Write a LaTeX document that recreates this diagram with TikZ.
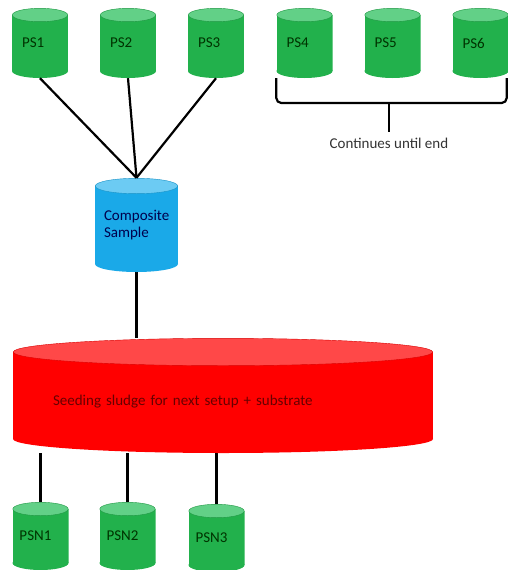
\documentclass[tikz,border=0pt]{standalone}
\usepackage{fontspec}
\setmainfont{Carlito}
\usetikzlibrary{backgrounds}
\definecolor{psgreen}{HTML}{22B14C}
\definecolor{pstop}{HTML}{62D087}
\definecolor{csblue}{HTML}{1AA9E8}
\definecolor{cstop}{HTML}{6CCBF3}
\definecolor{sdred}{HTML}{FF0000}
\definecolor{sdtop}{HTML}{FF4848}

\begin{document}
\begin{tikzpicture}[x=1pt,y=-1pt,every node/.style={font=\fontsize{15}{17}\selectfont,align=left,inner sep=0pt},drum/.style n args={5}{minimum width=#1,minimum height=#2,path picture={\fill[#4] ([yshift=#3]path picture bounding box.south west) rectangle ([yshift=-#3]path picture bounding box.north east);\fill[#4] ([yshift=#3]path picture bounding box.south) ellipse [x radius=#1/2,y radius=#3];\fill[#5,draw=#4!85!black,line width=0.4pt] ([yshift=-#3]path picture bounding box.north) ellipse [x radius=#1/2-0.3pt,y radius=#3-0.3pt];}},ps/.style={drum={56pt}{70pt}{7pt}{psgreen}{pstop},text width=36pt,text=green!20!black},psn/.style={drum={56pt}{68pt}{7pt}{psgreen}{pstop},text width=42pt,text=green!20!black},link/.style={line width=2.2pt,draw=black}]
\useasboundingbox (0,0) rectangle (508,570);
\node[ps] (ps1) at (40,43) {PS1};
\node[ps] (ps2) at (128,43) {PS2};
\node[ps] (ps3) at (216,43) {PS3};
\node[ps] (ps4) at (304.5,43) {PS4};
\node[ps] (ps5) at (392.5,43) {PS5};
\node[ps] (ps6) at (480.5,43) {PS6};
\node[drum={83pt}{94pt}{8pt}{csblue}{cstop},text width=65pt,text=blue!30!black] (comp) at (136.5,225) {Composite\\Sample};
\node[drum={420pt}{115pt}{14pt}{sdred}{sdtop},text width=340pt,text height=22pt,text=red!40!black] (sludge) at (223,395.5) {Seeding sludge for next setup + substrate};
\node[psn] (psn1) at (40.5,536) {PSN1};
\node[psn] (psn2) at (127.5,536) {PSN2};
\node[psn] (psn3) at (216.5,538) {PSN3};
\node[text=black!80] (cont) at (389,143) {Continues until end};
\coordinate (bmid) at (389,103);
\draw[link] (ps1.south) -- (comp.north);
\draw[link] (ps2.south) -- (comp.north);
\draw[link] (ps3.south) -- (comp.north);
\draw[link,rounded corners=5pt] (ps4.south west) |- (bmid) -| ([xshift=-2pt]ps6.south east);
\draw[link] (bmid) -- ([yshift=6pt]cont.north);
\begin{scope}[on background layer]
\draw[link] (comp.south) -- (comp.south |- sludge.north);
\draw[link] (psn1.north) -- (psn1.north |- sludge.south);
\draw[link] (psn2.north) -- (psn2.north |- sludge.south);
\draw[link] (psn3.north) -- (psn3.north |- sludge.south);
\end{scope}
\end{tikzpicture}
\end{document}
